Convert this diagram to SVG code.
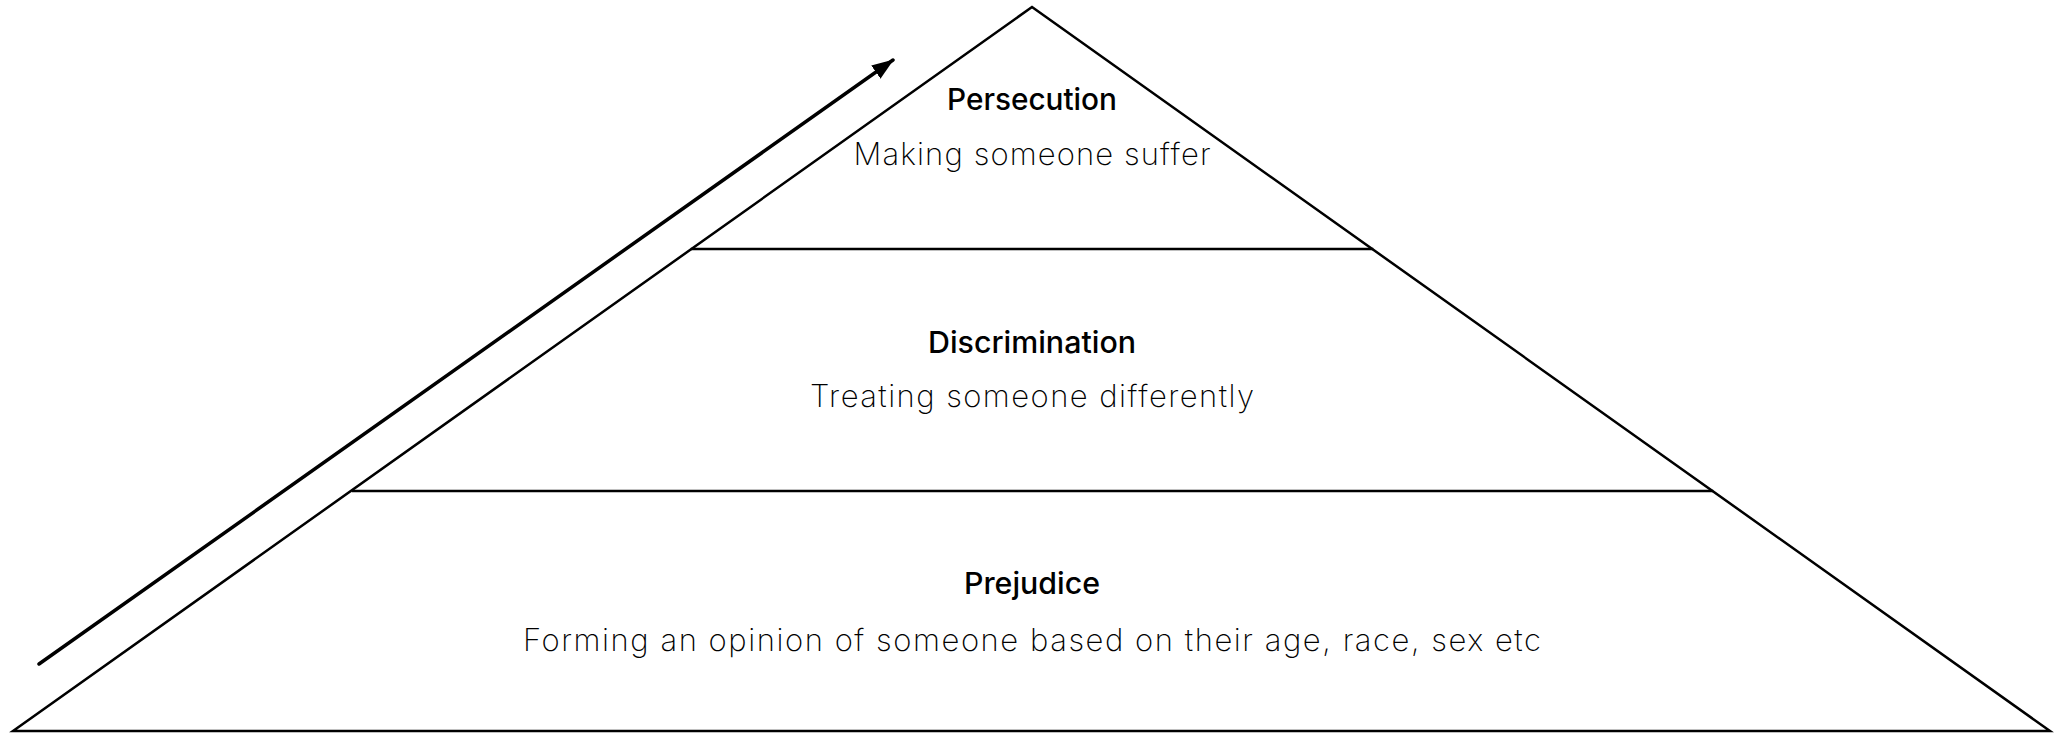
<svg xmlns="http://www.w3.org/2000/svg" width="2065" height="733" viewBox="0 0 2065 733">
  <style>
    .edge { stroke: #000; stroke-width: 2.5; fill: none; stroke-linecap: square; }
    .title { font-family: "Inter", "Liberation Sans", sans-serif; font-weight: 500; font-size: 30px; fill: #000; text-anchor: middle; }
    .sub { font-family: "Inter", "Liberation Sans", sans-serif; font-weight: 200; font-size: 31px; fill: #000; text-anchor: middle; }
    .arrow { stroke: #000; stroke-width: 3.5; fill: none; stroke-linecap: round; }
  </style>
  <defs>
    <marker id="ah" markerUnits="userSpaceOnUse" markerWidth="24" markerHeight="20" refX="21" refY="10" orient="auto">
      <path d="M0,2 L22,10 L0,18 Z" fill="#000"/>
    </marker>
  </defs>
  <rect width="2065" height="733" fill="#fff"/>
  <g id="pyramid">
    <path class="edge" d="M13,731 L1032,7 L2050,731 Z" stroke-linejoin="miter"/>
  </g>
  <g id="persecution">
    <text class="title" x="1032" y="110" textLength="170" lengthAdjust="spacingAndGlyphs">Persecution</text>
    <text class="sub" x="1032" y="165" textLength="357" lengthAdjust="spacing">Making someone suffer</text>
  </g>
  <g id="discrimination">
    <line class="edge" x1="692" y1="249" x2="1372" y2="249"/>
    <text class="title" x="1032" y="353" textLength="208" lengthAdjust="spacingAndGlyphs">Discrimination</text>
    <text class="sub" x="1032" y="407" textLength="444" lengthAdjust="spacing">Treating someone differently</text>
  </g>
  <g id="prejudice">
    <line class="edge" x1="353" y1="491" x2="1712" y2="491"/>
    <text class="title" x="1032" y="594" textLength="136" lengthAdjust="spacingAndGlyphs">Prejudice</text>
    <text class="sub" x="1032" y="651" textLength="1018" lengthAdjust="spacing">Forming an opinion of someone based on their age, race, sex etc</text>
  </g>
  <g id="connectors">
    <line class="arrow" x1="39" y1="664" x2="893" y2="60" marker-end="url(#ah)"/>
  </g>
</svg>
